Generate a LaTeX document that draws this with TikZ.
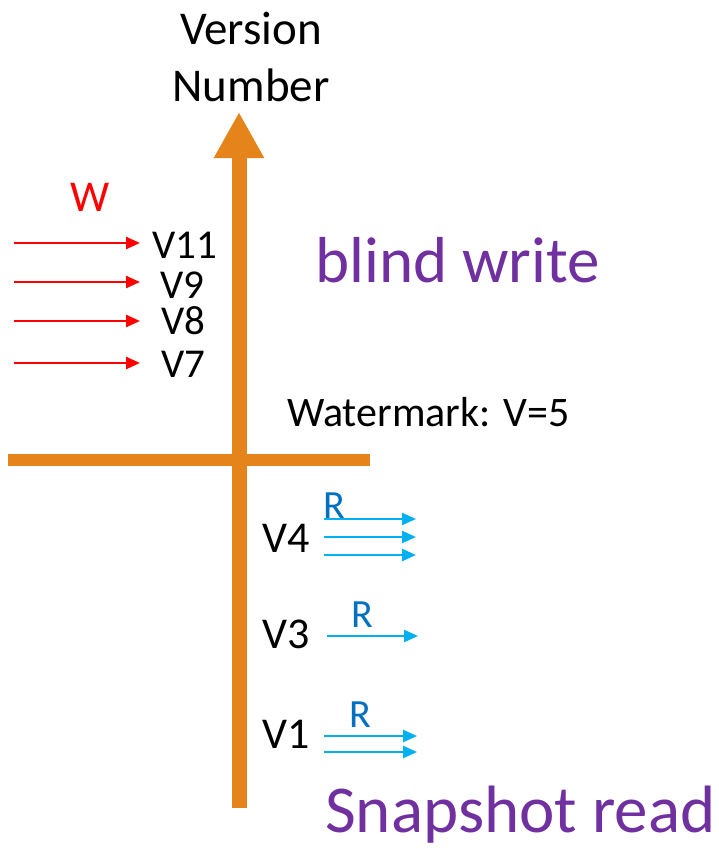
\documentclass[tikz,border=0pt]{standalone}
\usepackage{fontspec}
\setmainfont{Carlito}
\usetikzlibrary{arrows.meta,positioning}
\definecolor{axisorange}{HTML}{E5841A}
\definecolor{notepurple}{HTML}{7030A0}
\definecolor{readblue}{HTML}{00B0F0}
\definecolor{rdark}{HTML}{0070C0}
\tikzset{
    warrow/.style={red, line width=2.4pt, -{Triangle[length=14pt,width=12pt]}},
    rarrow/.style={readblue, line width=2.4pt, -{Triangle[length=14pt,width=12pt]}},
    vlabel/.style={anchor=base west, inner sep=0pt, font=\fontsize{44}{48}\selectfont},
    note/.style={anchor=base west, inner sep=0pt, notepurple, font=\fontsize{65}{70}\selectfont}
}

\begin{document}
\begin{tikzpicture}[x=1pt,y=-1pt]

    \useasboundingbox (0,0) rectangle (718,849);

    % Draw version axis.
    \coordinate (vbot) at (239,808);
    \coordinate (vtop) at (239,112);
    \draw[axisorange, line width=15pt, -{Triangle[length=46pt,width=47pt]}] (vbot) -- (vtop);
    \node (vaxis) at (251,57) [align=center, inner sep=0pt, font=\fontsize{47}{57}\selectfont]{Version\\Number};

    % Draw watermark line.
    \coordinate (wmleft) at (8,460);
    \coordinate (wmright) at (370,460);
    \draw[axisorange, line width=12pt] (wmleft) -- (wmright);
    \node (wmark) at (287,426) [anchor=base west, inner sep=0pt, font=\fontsize{42}{48}\selectfont]{Watermark: V=5};

    % Draw blind writes above the watermark.
    \node (wlab) at (90,197) [red, inner sep=0pt, font=\fontsize{44}{48}\selectfont]{W};
    \foreach \y [count=\i] in {243,282,321,363} {
        \coordinate (ws\i) at (14,\y);
        \coordinate (we\i) at (140,\y);
        \draw[warrow] (ws\i) -- (we\i);
    }
    \node (v11) at (152,258) [vlabel, font=\fontsize{41}{48}\selectfont]{V11};
    \node (v9) at (160,298) [vlabel, font=\fontsize{41}{48}\selectfont]{V9};
    \node (v8) at (161,334) [vlabel, font=\fontsize{41}{48}\selectfont]{V8};
    \node (v7) at (161,377) [vlabel, font=\fontsize{41}{48}\selectfont]{V7};

    % Draw snapshot reads below the watermark.
    \node (v4) at (262,552) [vlabel]{V4};
    \node (v3) at (262,648) [vlabel]{V3};
    \node (v1) at (262,748) [vlabel]{V1};
    \foreach \y [count=\i] in {519,537,555} {
        \coordinate (rs\i) at (324,\y);
        \coordinate (re\i) at (416,\y);
        \draw[rarrow] (rs\i) -- (re\i);
    }
    \coordinate (rs4) at (327,636);
    \coordinate (re4) at (418,636);
    \draw[rarrow] (rs4) -- (re4);
    \foreach \y [count=\i from 5] in {736,752} {
        \coordinate (rs\i) at (324,\y);
        \coordinate (re\i) at (417,\y);
        \draw[rarrow] (rs\i) -- (re\i);
    }
    \node (r4) at (323,518) [vlabel, rdark, font=\fontsize{40}{48}\selectfont]{R};
    \node (r3) at (351,627) [vlabel, rdark, font=\fontsize{40}{48}\selectfont]{R};
    \node (r1) at (349,727) [vlabel, rdark, font=\fontsize{40}{48}\selectfont]{R};

    % Handwritten notes.
    \node (blind) at (315,282) [note]{blind write};
    \node (snap) at (325,832) [note, font=\fontsize{67}{70}\selectfont]{Snapshot read};

\end{tikzpicture}
\end{document}
